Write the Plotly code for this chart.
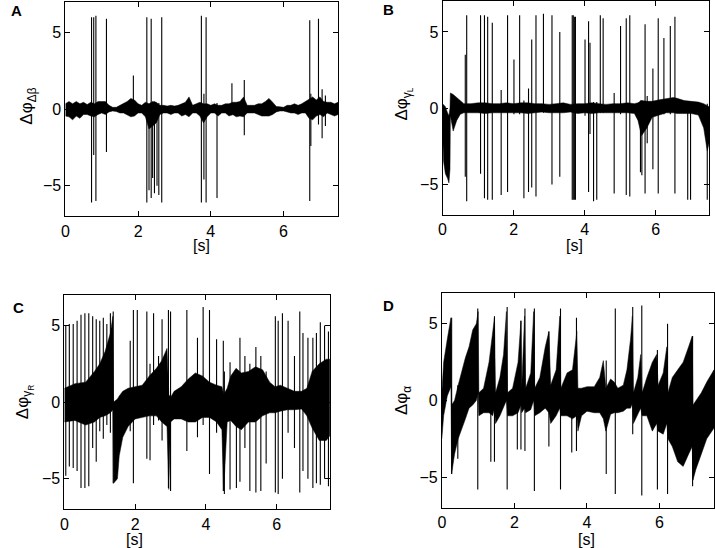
import plotly.graph_objects as go

W, H = 715, 548

# ---------------- Panel A : Δφ_Δβ ----------------
a_spk_t  = [0.72, 0.78, 0.84, 1.13, 1.87, 2.24, 2.30, 2.36, 2.40, 2.45, 2.52, 2.57, 2.65,
            3.74, 3.81, 3.87, 4.17, 4.58, 4.92, 6.72, 6.75, 6.96, 7.06, 7.15]
a_spk_hi = [6.0, 6.0, 6.1, 5.9, 2.2, 6.0, 0.3, 5.9, 0.3, 0.5, 0.3, 0.4, 6.0,
            6.1, 1.0, 6.0, 0.4, 1.7, 1.9, 5.8, 1.0, 5.9, 1.3, 0.9]
a_spk_lo = [-6.1, -3.0, -6.0, -2.8, -0.4, -6.1, -5.3, -5.8, -4.5, -5.5, -5.0, -5.6, -6.1,
            -6.1, -4.6, -6.1, -5.8, -0.4, -1.7, -6.0, -2.4, -1.0, -1.9, -1.1]
a_env_t  = [0.0, 0.1, 0.2, 0.3, 0.4, 0.5, 0.6, 0.7, 0.8, 0.9, 1.0, 1.1, 1.2, 1.3, 1.4,
            1.5, 1.6, 1.7, 1.8, 1.9, 2.0, 2.1, 2.2, 2.3, 2.4, 2.5, 2.6, 2.7, 2.8, 2.9,
            3.0, 3.1, 3.2, 3.3, 3.4, 3.5, 3.6, 3.7, 3.8, 3.9, 4.0, 4.1, 4.2, 4.3, 4.4,
            4.5, 4.6, 4.7, 4.8, 4.9, 5.0, 5.1, 5.2, 5.3, 5.4, 5.5, 5.6, 5.7, 5.8, 5.9,
            6.0, 6.1, 6.2, 6.3, 6.4, 6.5, 6.6, 6.7, 6.8, 6.9, 7.0, 7.1, 7.2, 7.3, 7.4, 7.5]
a_env_hi = [0.35, 0.5, 0.35, 0.5, 0.35, 0.45, 0.3, 0.45, 0.35, 0.5, 0.5, 0.5, 0.25, 0.12, 0.12,
            0.25, 0.35, 0.5, 0.7, 0.6, 0.35, 0.25, 0.45, 0.35, 0.5, 0.45, 0.25, 0.25, 0.2, 0.25,
            0.2, 0.25, 0.35, 0.45, 0.8, 0.25, 0.35, 0.45, 0.35, 0.35, 0.25, 0.35, 0.25, 0.25, 0.35,
            0.35, 0.45, 0.45, 0.5, 0.8, 0.25, 0.25, 0.25, 0.35, 0.35, 0.5, 0.7, 0.45, 0.18, 0.15,
            0.12, 0.25, 0.25, 0.35, 0.25, 0.35, 0.5, 0.7, 0.8, 0.6, 0.8, 0.5, 0.45, 0.45, 0.35, 0.45]
a_env_lo = [-0.45, -0.5, -0.7, -0.45, -0.6, -0.35, -0.35, -0.45, -0.5, -0.35, -0.25, -0.35, -0.18, -0.12, -0.15,
            -0.25, -0.25, -0.35, -0.5, -0.45, -0.25, -0.25, -0.5, -1.3, -1.1, -0.9, -0.35, -0.25, -0.25, -0.35,
            -0.25, -0.25, -0.45, -0.35, -0.5, -0.25, -0.25, -0.45, -0.9, -0.5, -0.25, -0.25, -0.45, -0.25, -0.25,
            -0.45, -0.35, -0.5, -0.45, -0.5, -0.25, -0.25, -0.25, -0.35, -0.45, -0.45, -0.45, -0.35, -0.18, -0.12,
            -0.12, -0.18, -0.25, -0.25, -0.35, -0.25, -0.25, -0.6, -0.7, -0.45, -0.35, -0.5, -0.25, -0.35, -0.45, -0.35]

# ---------------- Panel B : Δφ_γL ----------------
b_spk_t  = [0.64, 0.68, 1.07, 1.18, 1.27, 1.40, 1.65, 1.83, 2.01, 2.17, 2.29, 2.42, 2.51,
            2.63, 2.84, 3.08, 3.30, 3.65, 3.68, 3.71, 3.74, 4.01, 4.11, 4.15, 4.25, 4.34,
            4.44, 4.52, 4.83, 5.01, 5.17, 5.27, 5.57, 5.61, 5.70, 5.76, 5.92, 6.07, 6.23,
            6.41, 6.54, 6.90, 6.98, 7.45]
b_spk_hi = [3.5, 6.1, 6.1, 6.1, 6.0, 5.6, 1.2, 6.1, 3.2, 6.1, 0.5, 1.3, 4.5,
            6.1, 6.2, 6.1, 5.0, 6.1, 6.1, 6.0, 6.0, 4.5, 5.7, 4.3, 0.4, 0.4,
            6.1, 5.9, 1.0, 5.4, 5.9, 6.1, 0.5, 0.5, 5.5, 0.8, 2.6, 5.9, 4.6,
            5.4, 6.0, 0.4, 0.4, 0.3]
b_spk_lo = [-4.5, -6.1, -4.3, -5.9, -6.0, -6.0, -5.7, -5.5, -0.4, -0.4, -5.9, -5.5, -5.2,
            -5.8, -0.3, -5.0, -4.5, -6.0, -6.0, -6.0, -6.0, -0.5, -5.5, -1.7, -6.1, -6.0,
            -0.3, -0.3, -5.6, -0.4, -5.7, -5.8, -4.2, -4.4, -5.6, -2.3, -4.0, -5.6, -0.4,
            -0.4, -5.6, -6.0, -6.0, -6.0]
b_env_t  = [0.0, 0.03, 0.08, 0.14, 0.18, 0.21, 0.22, 0.3, 0.4, 0.5, 0.6, 0.8, 1.0, 1.2,
            1.4, 1.6, 1.8, 2.0, 2.2, 2.4, 2.6, 2.8, 3.0, 3.2, 3.4, 3.6, 3.8, 4.0, 4.2,
            4.4, 4.6, 4.8, 5.0, 5.2, 5.4, 5.5, 5.6, 5.75, 5.9, 6.1, 6.3, 6.5, 6.6, 6.8,
            7.0, 7.2, 7.35, 7.45, 7.5]
b_env_hi = [0.3, 0.2, 0.1, -0.3, -0.5, 0.0, 1.0, 0.9, 0.7, 0.45, 0.3, 0.3, 0.35, 0.35,
            0.3, 0.3, 0.35, 0.3, 0.35, 0.35, 0.3, 0.3, 0.25, 0.3, 0.35, 0.25, 0.3, 0.3, 0.35,
            0.3, 0.25, 0.3, 0.3, 0.35, 0.3, 0.35, 0.5, 0.45, 0.45, 0.55, 0.65, 0.7, 0.65, 0.5,
            0.45, 0.4, 0.3, 0.2, 0.1]
b_env_lo = [-1.5, -3.5, -4.3, -4.6, -4.9, -4.0, -0.5, -1.5, -0.8, -0.4, -0.3, -0.3, -0.3, -0.35,
            -0.3, -0.3, -0.3, -0.3, -0.3, -0.35, -0.3, -0.25, -0.3, -0.3, -0.3, -0.25, -0.35, -0.3, -0.35,
            -0.3, -0.3, -0.3, -0.3, -0.3, -0.35, -0.8, -1.8, -1.3, -0.6, -0.45, -0.3, -0.3, -0.35, -0.35,
            -0.35, -0.45, -1.3, -2.8, -2.3]

# ---------------- Panel C : Δφ_γR ----------------
c_spk_t  = [0.04, 0.14, 0.25, 0.36, 0.47, 0.58, 0.69, 0.80, 0.90, 1.00, 1.10, 1.20, 1.30, 1.38,
            1.86, 1.95, 2.06, 2.33, 2.42, 2.52, 2.66, 2.76, 2.94, 3.00, 3.46, 3.76, 3.92, 4.10,
            4.30, 4.49, 4.52, 4.68, 4.86, 4.96, 5.10, 5.24, 5.41, 5.55, 5.70, 5.96, 6.04, 6.16,
            6.32, 6.50, 6.65, 6.74, 6.88, 7.02, 7.12, 7.23, 7.35, 7.46]
c_spk_hi = [5.0, 5.1, 5.1, 5.3, 5.7, 5.8, 5.8, 5.6, 5.4, 5.3, 5.5, 5.1, 5.8, 5.9,
            4.0, 6.0, 6.0, 5.9, 2.5, 5.8, 3.0, 5.4, 6.0, 5.9, 6.0, 4.2, 6.2, 6.0,
            4.1, 4.0, 2.0, 2.6, 2.0, 4.2, 3.0, 2.5, 3.6, 3.0, 2.0, 5.6, 5.3, 5.8,
            5.3, 3.0, 5.9, 4.5, 4.2, 4.2, 4.5, 5.2, 5.0, 4.6]
c_spk_lo = [-4.8, -4.2, -4.3, -4.5, -5.6, -5.6, -5.5, -3.0, -3.9, -1.9, -2.4, -1.5, -2.0, -5.3,
            -1.9, -5.3, -0.5, -3.7, -3.8, -1.5, -1.2, -2.5, -5.6, -5.8, -3.2, -2.3, -1.5, -4.7,
            -2.0, -5.8, -6.0, -5.7, -5.6, -5.2, -3.0, -5.8, -5.9, -5.8, -4.0, -5.9, -6.0, -5.0,
            -2.0, -3.0, -5.9, -4.5, -5.0, -5.6, -5.3, -5.4, -5.0, -5.5]
c_env_t  = [0.0, 0.3, 0.6, 0.85, 1.0, 1.15, 1.3, 1.37, 1.39, 1.5, 1.55, 1.65, 1.8, 2.0,
            2.2, 2.4, 2.6, 2.75, 2.9, 2.95, 3.0, 3.1, 3.3, 3.5, 3.7, 3.9, 4.1, 4.3, 4.45,
            4.5, 4.6, 4.7, 4.85, 5.0, 5.2, 5.4, 5.6, 5.8, 5.95, 6.1, 6.3, 6.5, 6.7, 6.85,
            7.0, 7.2, 7.4, 7.5]
c_env_hi = [0.9, 1.2, 1.3, 2.0, 2.5, 3.3, 4.5, 5.6, 0.0, 0.2, 0.4, 0.7, 0.9, 1.0,
            1.1, 1.7, 2.2, 2.7, 3.5, 0.5, 0.3, 0.7, 1.0, 1.5, 1.9, 1.7, 1.3, 1.1, 1.0,
            0.5, 0.9, 1.7, 2.2, 1.9, 2.0, 2.3, 2.1, 1.3, 1.0, 1.1, 0.9, 0.7, 0.7, 0.9,
            2.0, 2.5, 2.8, 2.8]
c_env_lo = [-1.3, -1.2, -1.5, -1.3, -1.0, -0.9, -0.7, -0.5, -5.3, -5.0, -3.5, -2.3, -1.6, -1.1,
            -1.0, -0.9, -0.9, -1.3, -1.6, -5.7, -1.3, -1.1, -1.1, -1.3, -1.3, -1.0, -1.0, -1.3, -1.8,
            -5.8, -1.3, -1.2, -1.6, -1.8, -1.3, -1.3, -0.9, -0.7, -0.7, -0.6, -0.5, -0.5, -0.45, -0.9,
            -1.7, -2.5, -2.5, -2.2]

# ---------------- Panel D : Δφ_α ----------------
d_spk_t  = [0.27, 0.44, 0.99, 1.35, 1.45, 1.80, 2.08, 2.18, 2.29, 2.55, 2.95, 3.27, 3.58,
            3.71, 4.53, 4.78, 5.26, 5.51, 5.94, 6.22, 6.91]
d_spk_hi = [5.4, 1.0, 6.0, 2.0, 5.5, 6.1, 1.5, 5.2, 6.0, 6.0, 4.5, 6.0, 1.0,
            5.4, 2.6, 6.0, 6.1, 6.2, 3.3, 5.0, 4.2]
d_spk_lo = [-4.8, -3.8, -5.8, -4.0, -4.0, -5.8, -3.2, -3.2, -3.3, -5.9, -3.0, -5.8, -3.4,
            -3.3, -4.8, -6.1, -2.2, -6.2, -5.8, -6.1, -5.6]
d_env_t  = [0.0, 0.05, 0.15, 0.25, 0.27, 0.35, 0.45, 0.55, 0.65, 0.75, 0.85, 0.95, 1.0,
            1.02, 1.15, 1.3, 1.4, 1.45, 1.48, 1.6, 1.7, 1.78, 1.81, 1.95, 2.1, 2.18, 2.2,
            2.28, 2.31, 2.45, 2.53, 2.56, 2.7, 2.85, 2.95, 3.0, 3.15, 3.25, 3.28, 3.45,
            3.6, 3.72, 3.75, 3.85, 4.0, 4.2, 4.35, 4.45, 4.52, 4.65, 4.75, 4.85, 5.0,
            5.1, 5.2, 5.25, 5.28, 5.4, 5.48, 5.52, 5.65, 5.8, 5.92, 5.96, 6.1, 6.2, 6.23,
            6.35, 6.5, 6.65, 6.8, 6.9, 6.92, 7.0, 7.15, 7.3, 7.5]
d_env_hi = [0.5, 2.5, 4.0, 5.4, -0.3, 0.0, 1.0, 2.0, 2.8, 3.5, 4.6, 5.0, 5.8,
            0.5, 0.8, 2.5, 4.5, 5.4, 0.5, 1.5, 3.0, 5.8, 0.5, 0.8, 2.5, 5.2, 0.8,
            5.5, 0.8, 1.8, 5.8, 0.8, 1.5, 3.5, 4.5, 1.0, 2.0, 5.5, 0.8, 1.8,
            2.0, 4.5, 0.8, 0.8, 0.9, 0.9, 1.5, 2.6, 0.8, 1.4, 1.2, 0.8, 1.0,
            2.0, 4.0, 5.5, 0.5, 1.5, 3.0, 0.5, 1.5, 2.5, 3.0, 1.0, 1.8, 3.5, 0.5,
            1.5, 2.0, 2.5, 3.5, 4.2, -0.3, 0.0, 0.5, 1.2, 2.0]
d_env_lo = [-2.5, -1.0, 0.3, 0.9, -4.8, -3.5, -2.5, -1.8, -1.2, -0.5, -0.3, 0.0, 0.5,
            -1.0, -0.8, -0.8, -1.0, -0.5, -1.5, -1.0, -0.5, 0.0, -1.0, -1.0, -0.8, -0.3, -0.8,
            -0.5, -0.8, -0.6, 0.0, -1.0, -0.8, -0.5, -0.8, -1.5, -1.0, -0.5, -1.0, -1.0,
            -1.2, -1.0, -2.0, -1.0, -0.7, -0.8, -0.8, -1.2, -2.0, -0.9, -0.8, -0.8, -0.7,
            -0.5, -0.5, -0.2, -1.5, -0.9, -0.5, -1.0, -1.0, -2.0, -1.5, -2.0, -2.2, -1.5, -2.5,
            -3.0, -4.0, -4.3, -3.5, -3.0, -5.2, -4.5, -3.5, -2.5, -1.8]

# tick labels / axis settings
x_ticks = [0, 2, 4, 6]
y_ticks = [-5, 0, 5]
x_range = [0, 7.5]
y_range = [-7, 7]

FONT = "Liberation Sans, Arial, Helvetica, sans-serif"

def px(x):
    return x / W

def py(y):
    return 1 - y / H

panels = [
    dict(letter="A", ylab="Δφ<sub>Δβ</sub>", spk=(a_spk_t, a_spk_hi, a_spk_lo),
         env=(a_env_t, a_env_hi, a_env_lo), dom_x=(61.7, 336.0), dom_y=(1.0, 215.7),
         letter_xy=(13, 10), ylab_xy=(24, 105), xlab_xy=(199, 245)),
    dict(letter="B", ylab="Δφ<sub>γ<sub>L</sub></sub>", spk=(b_spk_t, b_spk_hi, b_spk_lo),
         env=(b_env_t, b_env_hi, b_env_lo), dom_x=(441.0, 709.0), dom_y=(0.5, 214.3),
         letter_xy=(387, 9), ylab_xy=(402, 103), xlab_xy=(574, 245)),
    dict(letter="C", ylab="Δφ<sub>γ<sub>R</sub></sub>", spk=(c_spk_t, c_spk_hi, c_spk_lo),
         env=(c_env_t, c_env_hi, c_env_lo), dom_x=(60.7, 327.7), dom_y=(294.3, 509.3),
         letter_xy=(15, 307), ylab_xy=(20, 402), xlab_xy=(131, 539)),
    dict(letter="D", ylab="Δφ<sub>α</sub>", spk=(d_spk_t, d_spk_hi, d_spk_lo),
         env=(d_env_t, d_env_hi, d_env_lo), dom_x=(440.3, 714.0), dom_y=(292.7, 507.7),
         letter_xy=(387, 305), ylab_xy=(402, 400), xlab_xy=(586, 539)),
]

fig = go.Figure()
annotations = []
layout_axes = {}

for i, p in enumerate(panels, start=1):
    xa = "x" if i == 1 else f"x{i}"
    ya = "y" if i == 1 else f"y{i}"
    et, ehi, elo = p["env"]
    fig.add_trace(go.Scatter(
        x=list(et) + list(et)[::-1], y=list(ehi) + list(elo)[::-1],
        fill="toself", fillcolor="black", mode="lines",
        line=dict(color="black", width=0.5), xaxis=xa, yaxis=ya,
        showlegend=False, hoverinfo="skip"))
    st, shi, slo = p["spk"]
    xs, ys = [], []
    for t, h, l in zip(st, shi, slo):
        xs += [t, t, None]
        ys += [l, h, None]
    fig.add_trace(go.Scatter(
        x=xs, y=ys, mode="lines", line=dict(color="black", width=1.1),
        xaxis=xa, yaxis=ya, showlegend=False, hoverinfo="skip"))

    axcommon = dict(showgrid=False, zeroline=False, showline=True, linecolor="black",
                    linewidth=1, mirror="ticks", ticks="inside", ticklen=5,
                    tickcolor="black", tickwidth=1,
                    tickfont=dict(family=FONT, size=16, color="black"))
    kx = "xaxis" if i == 1 else f"xaxis{i}"
    ky = "yaxis" if i == 1 else f"yaxis{i}"
    layout_axes[kx] = dict(domain=[px(p["dom_x"][0]), px(p["dom_x"][1])],
                           range=x_range, tickvals=x_ticks, anchor=ya, **axcommon)
    layout_axes[ky] = dict(domain=[py(p["dom_y"][1]), py(p["dom_y"][0])],
                           range=y_range, tickvals=y_ticks, anchor=xa, **axcommon)

    lx, ly = p["letter_xy"]
    annotations.append(dict(text=f"<b>{p['letter']}</b>", x=px(lx), y=py(ly),
                            xref="paper", yref="paper", showarrow=False,
                            xanchor="center", yanchor="middle",
                            font=dict(family=FONT, size=15, color="black")))
    yx, yy = p["ylab_xy"]
    annotations.append(dict(text=p["ylab"], x=px(yx), y=py(yy), xref="paper", yref="paper",
                            showarrow=False, textangle=-90, xanchor="center", yanchor="middle",
                            font=dict(family=FONT, size=17, color="black")))
    sx, sy = p["xlab_xy"]
    annotations.append(dict(text="[s]", x=px(sx), y=py(sy), xref="paper", yref="paper",
                            showarrow=False, xanchor="center", yanchor="middle",
                            font=dict(family=FONT, size=16, color="black")))

fig.update_layout(width=W, height=H, autosize=False,
                  margin=dict(l=0, r=0, t=0, b=0),
                  paper_bgcolor="white", plot_bgcolor="white",
                  annotations=annotations, **layout_axes)

fig.write_html("out.html", config={"displayModeBar": False},
               post_script="document.body.style.margin='0';")
